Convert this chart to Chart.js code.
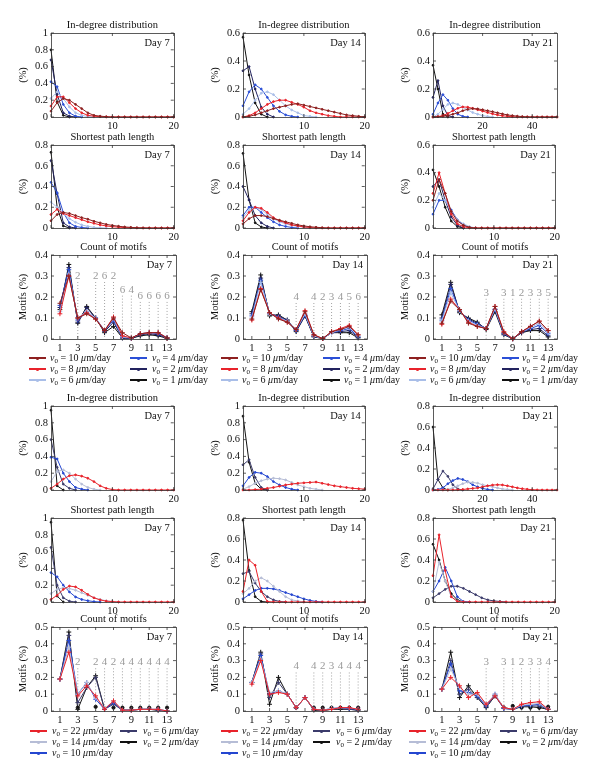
<!DOCTYPE html>
<html>
<head>
<title>Network statistics</title>
<script src="https://cdn.jsdelivr.net/npm/chart.js@4.4.1/dist/chart.umd.min.js"></script>
<style>
  body { margin:0; background:#fff; width:600px; height:784px; position:relative; overflow:hidden;
         font-family:"Liberation Serif","DejaVu Serif",serif; }
  canvas { position:absolute; }
  .lgline { position:absolute; height:1.4px; }
  .lgdot { position:absolute; width:3px; height:3px; border-radius:50%; }
  .lgtxt { position:absolute; font-size:10px; line-height:12px; white-space:nowrap; color:#111; }
  .lgtxt sub { font-size:7px; vertical-align:-2px; line-height:0; }
</style>
</head>
<body>
<script>
// ---- series / colours ----
var speedsA = ['10', '8', '6', '4', '2', '1'];
var colorsA = ['#8e2020', '#e8232b', '#a9bee8', '#2b4fd6', '#23235f', '#111111'];
var speedsB = ['22', '14', '10', '6', '2'];
var colorsB = ['#e8232b', '#b6bdd6', '#2446d0', '#3b3b6b', '#111111'];

// ---- x values ----
var x20 = [0,1,2,3,4,5,6,7,8,9,10,11,12,13,14,15,16,17,18,19,20];
var x50 = [0,2,4,6,8,10,12,14,16,18,20,22,24,26,28,30,32,34,36,38,40,42,44,46,48,50];
var xMotif = [1,2,3,4,5,6,7,8,9,10,11,12,13];

var ticks20 = [0, 10, 20];
var ticks50 = [0, 20, 40];
var ticksMotif = [1, 3, 5, 7, 9, 11, 13];

// ---- upper block (v0 = 10, 8, 6, 4, 2, 1) ----
var indegA7 = [
  [0.07,0.17,0.22,0.2,0.15,0.1,0.05,0.02,0.01,0.004,0,0,0,0,0,0,0,0,0,0,0],
  [0.13,0.24,0.24,0.17,0.1,0.05,0.02,0.01,0.003,0,0,0,0,0,0,0,0,0,0,0,0],
  [0.22,0.3,0.22,0.12,0.05,0.02,0.005,0],
  [0.42,0.36,0.15,0.05,0.01,0],
  [0.68,0.27,0.05,0.01,0],
  [0.8,0.18,0.02,0]
];
var indegA14 = [
  [0,0.005,0.015,0.03,0.045,0.06,0.07,0.08,0.09,0.095,0.085,0.075,0.065,0.055,0.045,0.035,0.025,0.015,0.01,0.005,0],
  [0,0.01,0.03,0.06,0.09,0.11,0.12,0.12,0.105,0.09,0.07,0.045,0.03,0.02,0.01,0.005,0,0,0,0,0],
  [0.02,0.06,0.12,0.17,0.18,0.16,0.12,0.08,0.05,0.03,0.01,0.005,0],
  [0.08,0.18,0.23,0.2,0.14,0.08,0.04,0.015,0.005,0],
  [0.33,0.36,0.2,0.07,0.02,0],
  [0.57,0.3,0.1,0.02,0]
];
var indegA21 = [
  [0,0.002,0.005,0.01,0.02,0.03,0.045,0.055,0.06,0.058,0.052,0.045,0.038,0.03,0.022,0.015,0.01,0.006,0.003,0.001,0,0,0,0,0,0],
  [0,0.003,0.01,0.025,0.045,0.062,0.072,0.07,0.062,0.052,0.042,0.032,0.023,0.015,0.009,0.005,0.002,0,0,0,0,0,0,0,0,0],
  [0,0.02,0.055,0.09,0.1,0.09,0.07,0.05,0.032,0.02,0.01,0.004,0],
  [0.02,0.1,0.16,0.12,0.06,0.02,0.005,0],
  [0.14,0.26,0.08,0.01,0],
  [0.37,0.2,0.02,0]
];
var pathA7 = [
  [0.07,0.13,0.15,0.14,0.12,0.1,0.085,0.065,0.05,0.035,0.025,0.017,0.01,0.006,0.003,0.001,0,0,0,0,0],
  [0.13,0.18,0.14,0.12,0.1,0.08,0.06,0.045,0.03,0.02,0.013,0.008,0.004,0.002,0,0,0,0,0,0,0],
  [0.25,0.2,0.14,0.09,0.055,0.03,0.015,0.006,0.002,0],
  [0.44,0.34,0.15,0.05,0.015,0.005,0],
  [0.65,0.33,0.05,0.01,0],
  [0.73,0.2,0.02,0]
];
var pathA14 = [
  [0.04,0.09,0.12,0.12,0.11,0.09,0.075,0.06,0.045,0.03,0.02,0.012,0.007,0.003,0,0,0,0,0,0,0],
  [0.07,0.15,0.2,0.19,0.15,0.1,0.07,0.05,0.03,0.02,0.01,0.005,0,0,0,0,0,0,0,0,0],
  [0.1,0.17,0.2,0.18,0.13,0.09,0.06,0.04,0.025,0.015,0.008,0],
  [0.12,0.2,0.2,0.15,0.1,0.06,0.03,0.015,0.005,0],
  [0.4,0.27,0.12,0.05,0.015,0],
  [0.72,0.27,0.05,0.01,0]
];
var pathA21 = [
  [0.2,0.35,0.25,0.12,0.05,0.02,0.005,0,0,0,0,0,0,0,0,0,0,0,0,0,0],
  [0.25,0.4,0.25,0.1,0.03,0.01,0,0,0,0,0,0,0,0,0,0,0,0,0,0,0],
  [0.15,0.25,0.2,0.12,0.06,0.03,0.01,0],
  [0.1,0.2,0.2,0.13,0.06,0.02,0.005,0],
  [0.3,0.35,0.2,0.08,0.02,0],
  [0.42,0.3,0.15,0.05,0.01,0]
];
var motifA7 = [
  [0.17,0.3,0.1,0.12,0.095,0.04,0.1,0.03,0.005,0.025,0.03,0.03,0.005],
  [0.12,0.3,0.1,0.125,0.095,0.04,0.105,0.015,0.005,0.025,0.03,0.03,0.005],
  [0.13,0.31,0.1,0.13,0.1,0.04,0.1,0.01,0.005,0.025,0.03,0.03,0.007],
  [0.16,0.33,0.09,0.13,0.1,0.04,0.09,0.008,0.004,0.025,0.03,0.025,0.006],
  [0.15,0.34,0.08,0.15,0.1,0.035,0.08,0.005,0.003,0.02,0.025,0.02,0.005],
  [0.14,0.355,0.075,0.155,0.1,0.03,0.06,0.005,0.003,0.015,0.02,0.015,0.003]
];
var motifA14 = [
  [0.095,0.235,0.125,0.095,0.08,0.045,0.13,0.02,0.002,0.035,0.045,0.06,0.02],
  [0.09,0.24,0.125,0.1,0.08,0.045,0.135,0.02,0.002,0.035,0.05,0.065,0.02],
  [0.1,0.27,0.12,0.1,0.085,0.045,0.12,0.015,0.002,0.03,0.045,0.055,0.015],
  [0.11,0.28,0.12,0.105,0.085,0.04,0.115,0.015,0.002,0.03,0.04,0.05,0.01],
  [0.12,0.29,0.12,0.11,0.09,0.04,0.11,0.012,0.002,0.03,0.035,0.04,0.008],
  [0.13,0.305,0.11,0.115,0.09,0.035,0.11,0.01,0.002,0.03,0.03,0.03,0.005]
];
var motifA21 = [
  [0.075,0.18,0.14,0.075,0.06,0.05,0.155,0.03,0.001,0.035,0.06,0.085,0.04],
  [0.07,0.19,0.14,0.08,0.06,0.05,0.155,0.035,0.001,0.035,0.06,0.085,0.04],
  [0.085,0.22,0.135,0.085,0.065,0.05,0.145,0.03,0.001,0.035,0.055,0.075,0.03],
  [0.09,0.24,0.135,0.09,0.07,0.05,0.14,0.025,0.001,0.035,0.05,0.065,0.025],
  [0.1,0.26,0.13,0.095,0.075,0.05,0.14,0.025,0.001,0.03,0.045,0.05,0.015],
  [0.115,0.27,0.125,0.1,0.08,0.045,0.13,0.02,0.001,0.03,0.04,0.04,0.01]
];

// ---- lower block (v0 = 22, 14, 10, 6, 2) ----
var indegB7 = [
  [0.02,0.07,0.13,0.17,0.18,0.165,0.14,0.1,0.05,0.02,0.005,0,0,0,0,0,0,0,0,0,0],
  [0.1,0.22,0.24,0.2,0.13,0.07,0.03,0.01,0],
  [0.39,0.37,0.2,0.1,0.03,0.01,0],
  [0.6,0.27,0.07,0.02,0],
  [0.95,0.05,0]
];
var indegB14 = [
  [0,0,0.005,0.01,0.02,0.03,0.045,0.06,0.07,0.08,0.085,0.09,0.095,0.08,0.065,0.05,0.04,0.03,0.02,0.015,0.01],
  [0.01,0.04,0.08,0.11,0.13,0.14,0.135,0.12,0.09,0.06,0.04,0.02,0.01,0],
  [0.05,0.15,0.21,0.2,0.16,0.1,0.06,0.03,0.01,0],
  [0.3,0.36,0.15,0.03,0],
  [0.88,0.33,0.08,0.01,0]
];
var indegB21 = [
  [0,0,0,0,0,0.002,0.005,0.01,0.015,0.02,0.03,0.04,0.047,0.05,0.048,0.04,0.03,0.02,0.012,0.007,0.003,0.001,0,0,0,0],
  [0,0,0.002,0.005,0.02,0.04,0.06,0.075,0.072,0.065,0.05,0.04,0.03,0.02,0.01,0.005,0],
  [0,0.005,0.02,0.06,0.09,0.11,0.1,0.08,0.05,0.03,0.015,0.005,0],
  [0.01,0.1,0.18,0.13,0.05,0.01,0],
  [0.6,0.1,0.02,0]
];
var pathB7 = [
  [0.03,0.08,0.15,0.19,0.18,0.14,0.09,0.05,0.025,0.01,0.005,0,0,0,0,0,0,0,0,0,0],
  [0.1,0.15,0.17,0.16,0.14,0.11,0.08,0.05,0.03,0.015,0.005,0],
  [0.35,0.3,0.2,0.12,0.06,0.03,0.015,0.005,0],
  [0.65,0.2,0.05,0.01,0],
  [0.95,0.07,0]
];
var pathB14 = [
  [0.1,0.4,0.35,0.1,0.005,0,0,0,0,0,0,0,0,0,0,0,0,0,0,0,0],
  [0.08,0.13,0.2,0.23,0.2,0.15,0.1,0.05,0.02,0.01,0],
  [0.03,0.07,0.11,0.13,0.13,0.125,0.11,0.09,0.07,0.05,0.03,0.015,0.005,0],
  [0.27,0.29,0.18,0.1,0.05,0.02,0.005,0],
  [0.78,0.3,0.05,0.005,0]
];
var pathB21 = [
  [0.25,0.64,0.3,0.05,0.005,0,0,0,0,0,0,0,0,0,0,0,0,0,0,0,0],
  [0.1,0.38,0.2,0.05,0.01,0],
  [0.1,0.2,0.33,0.2,0.05,0.005,0],
  [0.04,0.08,0.12,0.15,0.15,0.13,0.1,0.07,0.04,0.02,0.01,0.005,0],
  [0.55,0.4,0.2,0.08,0.02,0]
];
var motifB7 = [
  [0.19,0.35,0.09,0.15,0.09,0.01,0.06,0.005,0.005,0.01,0.01,0.01,0],
  [0.19,0.38,0.1,0.17,0.08,0.015,0.06,0.005,0.005,0.01,0.01,0.01,0],
  [0.19,0.42,0.1,0.17,0.07,0.01,0.05,0.005,0.005,0.01,0.01,0.01,0],
  [0.19,0.45,0.05,0.14,0.2,0.01,0.04,0.005,0.005,0.01,0.01,0.005,0],
  [0.19,0.47,0.01,0.14,0.21,0.01,0.05,0.005,0.005,0.01,0.01,0.005,0]
];
var motifB14 = [
  [0.16,0.3,0.1,0.11,0.1,0.02,0.08,0.01,0.005,0.01,0.02,0.02,0.01],
  [0.17,0.31,0.11,0.12,0.1,0.02,0.08,0.01,0.005,0.015,0.02,0.02,0.01],
  [0.17,0.33,0.1,0.12,0.1,0.02,0.08,0.01,0.005,0.015,0.02,0.015,0.01],
  [0.17,0.34,0.08,0.17,0.1,0.02,0.08,0.01,0.005,0.01,0.015,0.01,0.005],
  [0.17,0.35,0.04,0.2,0.1,0.02,0.08,0.005,0.002,0.01,0.01,0.01,0.005]
];
var motifB21 = [
  [0.13,0.2,0.15,0.08,0.11,0.04,0.09,0.02,0.01,0.04,0.05,0.055,0.01],
  [0.13,0.25,0.14,0.1,0.1,0.04,0.1,0.02,0.01,0.035,0.04,0.045,0.01],
  [0.13,0.28,0.12,0.11,0.09,0.03,0.1,0.015,0.01,0.03,0.035,0.04,0.01],
  [0.13,0.3,0.1,0.13,0.08,0.025,0.09,0.015,0.01,0.03,0.03,0.03,0.01],
  [0.13,0.35,0.08,0.15,0.08,0.02,0.09,0.02,0.01,0.025,0.025,0.02,0.01]
];

// significance labels above the motif panels
var sigA7x = [3,5,6,7,8,9,10,11,12,13];
var sigA7t = ['2','2','6','2','6','4','6','6','6','6'];
var sigA7y = [0.3,0.3,0.3,0.3,0.235,0.235,0.205,0.205,0.205,0.205];
var sigA14x = [6,8,9,10,11,12,13];
var sigA14t = ['4','4','2','3','4','5','6'];
var sigA14y = [0.2,0.2,0.2,0.2,0.2,0.2,0.2];
var sigA21x = [6,8,9,10,11,12,13];
var sigA21t = ['3','3','1','2','3','3','5'];
var sigA21y = [0.22,0.22,0.22,0.22,0.22,0.22,0.22];
var sigB7x = [3,5,6,7,8,9,10,11,12,13];
var sigB7t = ['2','2','4','2','4','4','4','4','4','4'];
var sigB7y = [0.29,0.29,0.29,0.29,0.29,0.29,0.29,0.29,0.29,0.29];
var sigB14x = [6,8,9,10,11,12,13];
var sigB14t = ['4','4','2','3','4','4','4'];
var sigB14y = [0.265,0.265,0.265,0.265,0.265,0.265,0.265];
var sigB21x = [6,8,9,10,11,12,13];
var sigB21t = ['3','3','1','2','3','3','4'];
var sigB21y = [0.29,0.29,0.29,0.29,0.29,0.29,0.29];
// black end markers of the dotted lines (lower panels)
var endB7 = [0.02,0.025,0.015,0.02,0.02,0.02,0.02,0.02,0.02,0.02];
var endB14 = [0.02,0.02,0.02,0.02,0.02,0.02,0.02];
var endB21 = [0.03,0.02,0.03,0.02,0.02,0.02,0.025];

Chart.defaults.font.family = '"Liberation Serif","DejaVu Serif",serif';
Chart.defaults.font.size = 10.5;
Chart.defaults.color = '#111';

// box with inward ticks, MATLAB style; panel title and day tag
var framePlugin = {
  id: 'frame',
  afterDatasetsDraw: function (chart) {
    var a = chart.chartArea, ctx = chart.ctx;
    ctx.save();
    ctx.strokeStyle = '#333';
    ctx.lineWidth = 0.8;
    ctx.strokeRect(Math.round(a.left) + 0.5, Math.round(a.top) + 0.5, Math.round(a.right - a.left), Math.round(a.bottom - a.top));
    ctx.beginPath();
    chart.scales.y.ticks.forEach(function (t) {
      var py = chart.scales.y.getPixelForValue(t.value);
      ctx.moveTo(a.left, py); ctx.lineTo(a.left + 3, py);
      ctx.moveTo(a.right, py); ctx.lineTo(a.right - 3, py);
    });
    chart.scales.x.ticks.forEach(function (t) {
      var px = chart.scales.x.getPixelForValue(t.value);
      ctx.moveTo(px, a.bottom); ctx.lineTo(px, a.bottom - 3);
      ctx.moveTo(px, a.top); ctx.lineTo(px, a.top + 3);
    });
    ctx.stroke();
    var ex = chart.options.plugins.extras;
    ctx.fillStyle = '#111';
    ctx.font = '10.5px "Liberation Serif", serif';
    ctx.textBaseline = 'middle';
    ctx.textAlign = 'right';
    ctx.fillText(ex.day, a.right - 4, a.top + 10);
    ctx.textAlign = 'center';
    ctx.fillText(ex.title, (a.left + a.right) / 2, a.top - 7.5);
    ctx.restore();
  },
  beforeDatasetsDraw: function (chart) {
    var ex = chart.options.plugins.extras;
    if (!ex.sigX) return;
    var ctx = chart.ctx, sx = chart.scales.x, sy = chart.scales.y;
    ctx.save();
    ctx.strokeStyle = '#9a9a9a';
    ctx.fillStyle = '#9a9a9a';
    ctx.lineWidth = 0.9;
    ctx.setLineDash([1, 2]);
    ctx.font = '11px "Liberation Serif", serif';
    ctx.textAlign = 'center';
    ctx.textBaseline = 'middle';
    ex.sigX.forEach(function (x, i) {
      var px = sx.getPixelForValue(x), py = sy.getPixelForValue(ex.sigY[i]);
      ctx.beginPath();
      ctx.moveTo(px, py + 6);
      ctx.lineTo(px, sy.getPixelForValue(0));
      ctx.stroke();
      ctx.fillText(ex.sigT[i], px, py);
    });
    ctx.restore();
  }
};

function makeChart(s) {
  var L = s.box[0], T = s.box[1], R = s.box[2], B = s.box[3];
  var cv = document.createElement('canvas');
  var w = R - L + 46, h = B - T + 30;
  cv.width = w; cv.height = h;
  cv.style.left = (L - 40) + 'px';
  cv.style.top = (T - 14) + 'px';
  cv.style.width = w + 'px';
  cv.style.height = h + 'px';
  document.body.appendChild(cv);

  var datasets = s.series.map(function (ys, i) {
    return {
      data: ys.map(function (v, j) { return { x: s.xs[j], y: v }; }),
      borderColor: s.colors[i],
      backgroundColor: s.colors[i],
      borderWidth: 1,
      pointRadius: s.motif ? 2.4 : 0.9,
      pointStyle: s.motif ? 'cross' : 'circle',
      pointBorderWidth: 1,
      tension: 0,
      clip: false
    };
  });
  if (s.ends) {
    datasets.push({
      data: s.ends.map(function (v, j) { return { x: s.sigX[j], y: v }; }),
      showLine: false,
      borderColor: '#111', backgroundColor: '#111',
      pointRadius: 1.6, pointStyle: 'circle', clip: false
    });
  }

  new Chart(cv.getContext('2d'), {
    type: 'line',
    data: { datasets: datasets },
    plugins: [framePlugin],
    options: {
      responsive: false,
      animation: false,
      events: [],
      layout: { padding: { left: 0, right: 6, top: 14, bottom: 0 } },
      plugins: {
        legend: { display: false },
        tooltip: { enabled: false },
        title: { display: false },
        extras: { day: s.day, title: s.title, sigX: s.sigX, sigY: s.sigY, sigT: s.sigT }
      },
      scales: {
        x: {
          type: 'linear', min: s.xmin, max: s.xmax,
          grid: { display: false, drawTicks: false },
          border: { display: false },
          afterBuildTicks: function (sc) { sc.ticks = s.xticks.map(function (v) { return { value: v }; }); },
          ticks: {
            padding: 3,
            callback: function (v) { return (s.motif || v !== 0) ? String(v) : ''; }
          },
          afterFit: function (sc) { sc.height = 16; }
        },
        y: {
          min: 0, max: s.ymax,
          grid: { display: false, drawTicks: false },
          border: { display: false },
          ticks: {
            stepSize: s.ystep, padding: 3,
            callback: function (v) { return String(Number(v.toFixed(2))); }
          },
          title: { display: true, text: s.ylabel, color: '#111', font: { size: 10.5 }, padding: { top: 6, bottom: 0 } },
          afterFit: function (sc) { sc.width = 40; }
        }
      }
    }
  });
}

var colL = [51, 243, 433], colR = [176, 367, 557];
var rowT = [33, 145, 255, 406, 518, 627], rowB = [117, 228, 339, 490, 602, 711];
function box(r, c) { return [colL[c], rowT[r], colR[c], rowB[r]]; }

var days = ['Day 7', 'Day 14', 'Day 21'];
var indegA = [indegA7, indegA14, indegA21], pathA = [pathA7, pathA14, pathA21], motifA = [motifA7, motifA14, motifA21];
var indegB = [indegB7, indegB14, indegB21], pathB = [pathB7, pathB14, pathB21], motifB = [motifB7, motifB14, motifB21];
var indegAmax = [1, 0.6, 0.6], pathAmax = [0.8, 0.8, 0.6];
var indegBmax = [1, 1, 0.8], pathBmax = [1, 0.8, 0.8];
var sigAx = [sigA7x, sigA14x, sigA21x], sigAt = [sigA7t, sigA14t, sigA21t], sigAy = [sigA7y, sigA14y, sigA21y];
var sigBx = [sigB7x, sigB14x, sigB21x], sigBt = [sigB7t, sigB14t, sigB21t], sigBy = [sigB7y, sigB14y, sigB21y];
var endsB = [endB7, endB14, endB21];

for (var c = 0; c < 3; c++) {
  var wide = (c === 2);
  makeChart({ box: box(0, c), title: 'In-degree distribution', day: days[c], ylabel: '(%)',
    xs: wide ? x50 : x20, xmin: 0, xmax: wide ? 50 : 20, xticks: wide ? ticks50 : ticks20,
    ymax: indegAmax[c], ystep: 0.2, series: indegA[c], colors: colorsA });
  makeChart({ box: box(1, c), title: 'Shortest path length', day: days[c], ylabel: '(%)',
    xs: x20, xmin: 0, xmax: 20, xticks: ticks20,
    ymax: pathAmax[c], ystep: 0.2, series: pathA[c], colors: colorsA });
  makeChart({ box: box(2, c), title: 'Count of motifs', day: days[c], ylabel: 'Motifs (%)', motif: true,
    xs: xMotif, xmin: 0, xmax: 14, xticks: ticksMotif,
    ymax: 0.4, ystep: 0.1, series: motifA[c], colors: colorsA,
    sigX: sigAx[c], sigT: sigAt[c], sigY: sigAy[c] });
  makeChart({ box: box(3, c), title: 'In-degree distribution', day: days[c], ylabel: '(%)',
    xs: wide ? x50 : x20, xmin: 0, xmax: wide ? 50 : 20, xticks: wide ? ticks50 : ticks20,
    ymax: indegBmax[c], ystep: 0.2, series: indegB[c], colors: colorsB });
  makeChart({ box: box(4, c), title: 'Shortest path length', day: days[c], ylabel: '(%)',
    xs: x20, xmin: 0, xmax: 20, xticks: ticks20,
    ymax: pathBmax[c], ystep: 0.2, series: pathB[c], colors: colorsB });
  makeChart({ box: box(5, c), title: 'Count of motifs', day: days[c], ylabel: 'Motifs (%)', motif: true,
    xs: xMotif, xmin: 0, xmax: 14, xticks: ticksMotif,
    ymax: 0.5, ystep: 0.1, series: motifB[c], colors: colorsB,
    sigX: sigBx[c], sigT: sigBt[c], sigY: sigBy[c], ends: endsB[c] });
}

// ---- legends (HTML) ----
function legendItem(lineX, textX, y, color, speed) {
  var ln = document.createElement('div');
  ln.className = 'lgline';
  ln.style.left = lineX + 'px'; ln.style.top = (y - 0.7) + 'px';
  ln.style.width = '17px'; ln.style.background = color;
  document.body.appendChild(ln);
  var dot = document.createElement('div');
  dot.className = 'lgdot';
  dot.style.left = (lineX + 7) + 'px'; dot.style.top = (y - 1.5) + 'px';
  dot.style.background = color;
  document.body.appendChild(dot);
  var tx = document.createElement('div');
  tx.className = 'lgtxt';
  tx.style.left = textX + 'px'; tx.style.top = (y - 6.5) + 'px';
  tx.innerHTML = '<i>\u03bd</i><sub>0</sub> = ' + speed + ' <i>\u03bc</i>m/day';
  document.body.appendChild(tx);
}

var legA = [[29, 50, 130, 152], [221, 242, 323, 344], [409, 430, 502, 522]];
var legARows = [358, 369, 380];
legA.forEach(function (p) {
  for (var i = 0; i < 3; i++) legendItem(p[0], p[1], legARows[i], colorsA[i], speedsA[i]);
  for (var i = 0; i < 3; i++) legendItem(p[2], p[3], legARows[i], colorsA[i + 3], speedsA[i + 3]);
});
var legB = [[30, 52, 120, 143], [221, 242, 313, 336], [409, 430, 500, 522]];
var legBRows = [731, 742, 753];
legB.forEach(function (p) {
  for (var i = 0; i < 3; i++) legendItem(p[0], p[1], legBRows[i], colorsB[i], speedsB[i]);
  for (var i = 0; i < 2; i++) legendItem(p[2], p[3], legBRows[i], colorsB[i + 3], speedsB[i + 3]);
});
</script>
</body>
</html>
